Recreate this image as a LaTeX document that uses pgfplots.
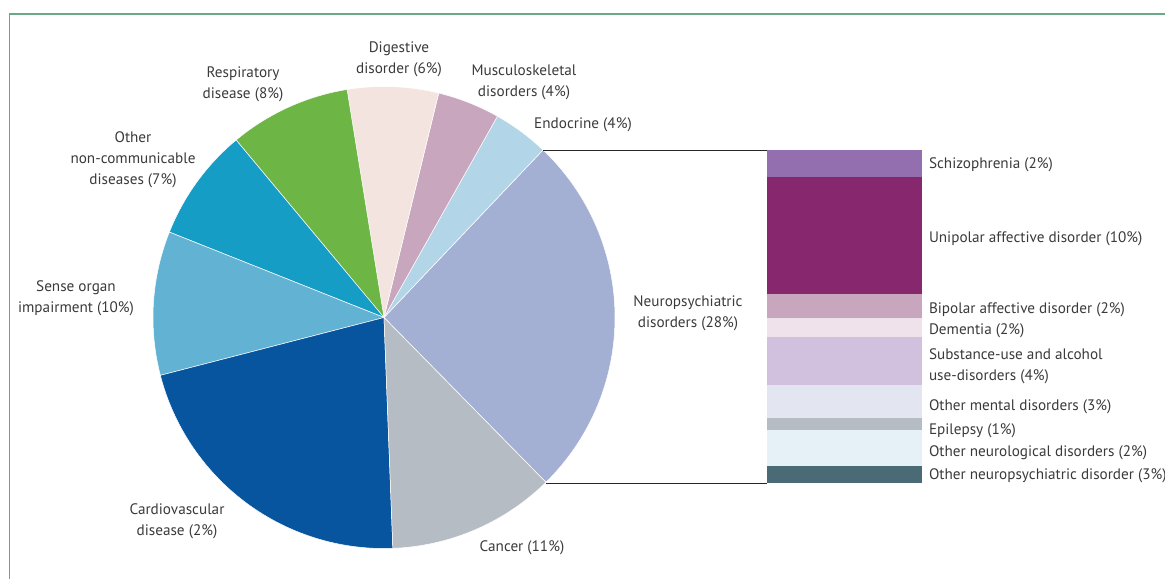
\documentclass[border=0pt]{standalone}
\usepackage{pgfplots}
\pgfplotsset{compat=1.18}
\usepackage{fontspec}
\setmainfont{PT Sans}
\definecolor{cNeuro}{HTML}{A3B0D4}
\definecolor{cCancer}{HTML}{B5BCC3}
\definecolor{cCardio}{HTML}{07559E}
\definecolor{cSense}{HTML}{62B3D3}
\definecolor{cNCD}{HTML}{159DC5}
\definecolor{cResp}{HTML}{6DB544}
\definecolor{cDig}{HTML}{F3E4E0}
\definecolor{cMusc}{HTML}{C8A6BD}
\definecolor{cEndo}{HTML}{B2D6E8}
\definecolor{cSchizo}{HTML}{946FB0}
\definecolor{cUni}{HTML}{87276E}
\definecolor{cBip}{HTML}{C8A6BD}
\definecolor{cDem}{HTML}{EFE2EA}
\definecolor{cSub}{HTML}{D2C1DE}
\definecolor{cOM}{HTML}{E3E5F1}
\definecolor{cEpi}{HTML}{B5BCC3}
\definecolor{cON}{HTML}{E6F1F7}
\definecolor{cONP}{HTML}{4A6B76}
\definecolor{cFrame}{HTML}{6AA888}
\definecolor{txt}{HTML}{3A3A3A}
\pgfplotsset{slice/.style={draw=white, line width=0.25pt, samples=60, variable=\t}}
\tikzset{lab/.style={font=\fontsize{7.6}{10.6}\selectfont, text=txt, inner sep=0pt, outer sep=0pt}}
\begin{document}
\begin{tikzpicture}
\useasboundingbox (0,0) rectangle (582.5pt,289.5pt);
\clip (0,0) rectangle (582.5pt,289.5pt);
\begin{axis}[at={(0,0)}, anchor=south west, scale only axis,
  width=582.5pt, height=289.5pt, xmin=0, xmax=1165, ymin=0, ymax=579,
  y dir=reverse, axis lines=none, clip=false]
% frame
\draw[cFrame, line width=0.9pt] (axis cs:9.5,579) -- (axis cs:9.5,14) -- (axis cs:1165,14);
% pie slices: domain = start:end angle in degrees
\addplot[slice, fill=cNeuro, domain=-45.5:46.5] ({384+231*cos(t)}, {317.5-231*sin(t)}) -- (axis cs:384,317.5) -- cycle;
\addplot[slice, fill=cEndo, domain=46.5:60.6] ({384+231*cos(t)}, {317.5-231*sin(t)}) -- (axis cs:384,317.5) -- cycle;
\addplot[slice, fill=cMusc, domain=60.6:76.3] ({384+231*cos(t)}, {317.5-231*sin(t)}) -- (axis cs:384,317.5) -- cycle;
\addplot[slice, fill=cDig, domain=76.3:99.2] ({384+231*cos(t)}, {317.5-231*sin(t)}) -- (axis cs:384,317.5) -- cycle;
\addplot[slice, fill=cResp, domain=99.2:129.8] ({384+231*cos(t)}, {317.5-231*sin(t)}) -- (axis cs:384,317.5) -- cycle;
\addplot[slice, fill=cNCD, domain=129.8:158.3] ({384+231*cos(t)}, {317.5-231*sin(t)}) -- (axis cs:384,317.5) -- cycle;
\addplot[slice, fill=cSense, domain=158.3:194.5] ({384+231*cos(t)}, {317.5-231*sin(t)}) -- (axis cs:384,317.5) -- cycle;
\addplot[slice, fill=cCardio, domain=194.5:272.2] ({384+231*cos(t)}, {317.5-231*sin(t)}) -- (axis cs:384,317.5) -- cycle;
\addplot[slice, fill=cCancer, domain=272.2:314.5] ({384+231*cos(t)}, {317.5-231*sin(t)}) -- (axis cs:384,317.5) -- cycle;
% connector lines
\draw[black!85, line width=0.5pt] (axis cs:543,150) -- (axis cs:767,150);
\draw[black!85, line width=0.5pt] (axis cs:546,483) -- (axis cs:767,483);
% labels
\node[lab, align=center] at (axis cs:399,59.5) {Digestive\\disorder (6\%)};
\node[lab, align=center] at (axis cs:524,82) {Musculoskeletal\\disorders (4\%)};
\node[lab] at (axis cs:583,125) {Endocrine (4\%)};
\node[lab, align=center] at (axis cs:243,84) {Respiratory\\disease (8\%)};
\node[lab, align=center] at (axis cs:133,160) {Other\\non-communicable\\diseases (7\%)};
\node[lab, align=center] at (axis cs:76,298.5) {Sense organ\\impairment (10\%)};
\node[lab, align=center] at (axis cs:177,521) {Cardiovascular\\disease (2\%)};
\node[lab] at (axis cs:522,548) {Cancer (11\%)};
\node[lab, align=center] at (axis cs:688,313) {Neuropsychiatric\\disorders (28\%)};
\node[lab, anchor=west] at (axis cs:929,165) {Schizophrenia (2\%)};
\node[lab, anchor=west] at (axis cs:929,238.5) {Unipolar affective disorder (10\%)};
\node[lab, anchor=west] at (axis cs:929,310) {Bipolar affective disorder (2\%)};
\node[lab, anchor=west] at (axis cs:929,331) {Dementia (2\%)};
\node[lab, anchor=west, align=left] at (axis cs:929,366.5) {Substance-use and alcohol\\use-disorders (4\%)};
\node[lab, anchor=west] at (axis cs:929,407) {Other mental disorders (3\%)};
\node[lab, anchor=west] at (axis cs:929,431) {Epilepsy (1\%)};
\node[lab, anchor=west] at (axis cs:929,452.5) {Other neurological disorders (2\%)};
\node[lab, anchor=west] at (axis cs:929,476) {Other neuropsychiatric disorder (3\%)};
\end{axis}
% stacked bar of neuropsychiatric disorders (heights in pixels of the bar)
\begin{axis}[at={(383.5pt,48pt)}, anchor=south west, scale only axis,
  width=77.5pt, height=166.5pt, xmin=0, xmax=1, ymin=0, ymax=333.3,
  y dir=reverse, axis lines=none, ybar stacked, bar width=77.5pt, clip=false]
\addplot[fill=cSchizo, draw=none] coordinates {(0.5,27)};
\addplot[fill=cUni, draw=none] coordinates {(0.5,117)};
\addplot[fill=cBip, draw=none] coordinates {(0.5,23.7)};
\addplot[fill=cDem, draw=none] coordinates {(0.5,19.6)};
\addplot[fill=cSub, draw=none] coordinates {(0.5,48.4)};
\addplot[fill=cOM, draw=none] coordinates {(0.5,32.3)};
\addplot[fill=cEpi, draw=none] coordinates {(0.5,12.7)};
\addplot[fill=cON, draw=none] coordinates {(0.5,36)};
\addplot[fill=cONP, draw=none] coordinates {(0.5,16.6)};
\end{axis}
\end{tikzpicture}
\end{document}
